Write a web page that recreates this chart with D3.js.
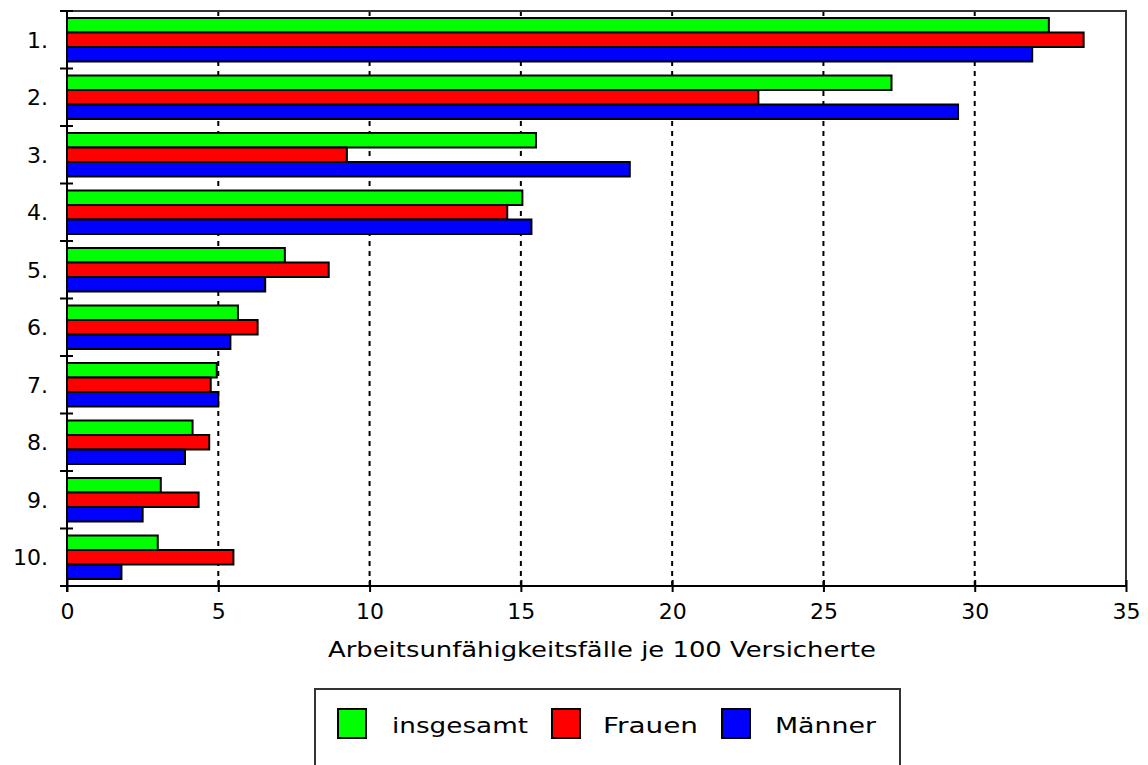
<!DOCTYPE html>
<html>
<head>
<meta charset="utf-8">
<script src="https://cdn.jsdelivr.net/npm/d3@7"></script>
<style>
  body { margin: 0; background: #fff; }
  svg { display: block; }
  text { font-family: "DejaVu Sans", sans-serif; font-size: 22px; fill: #000; }
</style>
</head>
<body>
<svg id="chart" width="1148" height="765"></svg>
<script>
// Rang 1..10, Fälle je 100 Versicherte
const categories = ['1.', '2.', '3.', '4.', '5.', '6.', '7.', '8.', '9.', '10.'];
const seriesNames = ['insgesamt', 'Frauen', 'Männer'];
const insgesamt = [32.45, 27.25, 15.5, 15.05, 7.2, 5.65, 4.95, 4.15, 3.1, 3.0];
const frauen    = [33.6, 22.85, 9.25, 14.55, 8.65, 6.3, 4.75, 4.7, 4.35, 5.5];
const maenner   = [31.9, 29.45, 18.6, 15.35, 6.55, 5.4, 5.0, 3.9, 2.5, 1.8];
const xTicks = [0, 5, 10, 15, 20, 25, 30, 35];
const colors = ['#00ff00', '#ff0000', '#0000ff'];
const xTitle = 'Arbeitsunfähigkeitsfälle je 100 Versicherte';

const svg = d3.select('#chart');
const plotLeft = 67, plotRight = 1126, plotTop = 11, plotBottom = 586;

const x = d3.scaleLinear().domain([0, 35]).range([plotLeft, plotRight]);
const y = d3.scaleBand().domain(categories).range([plotTop, plotBottom]);
const inner = d3.scaleBand().domain(seriesNames).range([7, 50.5]);

const values = [insgesamt, frauen, maenner];

// dotted grid lines
svg.append('g').selectAll('line')
    .data(xTicks.filter(t => t > 0 && t < 35))
    .enter().append('line')
    .attr('x1', d => x(d)).attr('x2', d => x(d))
    .attr('y1', plotTop).attr('y2', plotBottom)
    .attr('stroke', '#000').attr('stroke-width', 2)
    .attr('stroke-dasharray', '5,5');

// frame top/right
svg.append('path')
    .attr('d', `M${plotLeft},${plotTop}H${plotRight}V${plotBottom}`)
    .attr('fill', 'none').attr('stroke', '#333').attr('stroke-width', 2);

// bars
const groups = svg.append('g').selectAll('g')
    .data(categories)
    .enter().append('g')
    .attr('transform', d => `translate(0,${y(d)})`);

groups.selectAll('rect')
    .data((c, i) => seriesNames.map((s, k) => ({ s, k, v: values[k][i] })))
    .enter().append('rect')
    .attr('x', x(0))
    .attr('y', d => inner(d.s))
    .attr('width', d => x(d.v) - x(0))
    .attr('height', inner.bandwidth())
    .attr('fill', d => colors[d.k])
    .attr('stroke', '#000').attr('stroke-width', 2);

// x axis
const xAxis = svg.append('g')
    .attr('transform', `translate(0,${plotBottom})`)
    .call(d3.axisBottom(x).tickValues(xTicks).tickSize(6).tickPadding(0));
xAxis.select('.domain').attr('d', `M${plotLeft},0H${plotRight}`).attr('stroke', '#000').attr('stroke-width', 2);
xAxis.selectAll('.tick line').attr('y1', -6).attr('y2', 6).attr('stroke', '#000').attr('stroke-width', 2);
xAxis.selectAll('.tick text')
    .attr('y', 33).attr('dy', 0)
    .style('font-family', '"DejaVu Sans", sans-serif').style('font-size', '22px').attr('fill', '#000');

// y axis (ticks at band borders)
const yAxis = svg.append('g').attr('transform', `translate(${plotLeft},0)`);
yAxis.append('line')
    .attr('x1', 0).attr('x2', 0).attr('y1', plotTop).attr('y2', plotBottom + 6)
    .attr('stroke', '#000').attr('stroke-width', 2);
yAxis.selectAll('line.tick')
    .data(categories.map(c => y(c)).concat([plotBottom]))
    .enter().append('line')
    .attr('class', 'tick')
    .attr('x1', -7).attr('x2', 6)
    .attr('y1', d => d).attr('y2', d => d)
    .attr('stroke', '#000').attr('stroke-width', 2);
yAxis.selectAll('text')
    .data(categories)
    .enter().append('text')
    .attr('x', -19)
    .attr('y', d => y(d) + y.bandwidth() / 2 + 8)
    .attr('text-anchor', 'end')
    .text(d => d);

// x title
svg.append('text')
    .attr('x', 328).attr('y', 657)
    .attr('textLength', 548).attr('lengthAdjust', 'spacingAndGlyphs')
    .text(xTitle);

// legend
const legend = svg.append('g');
legend.append('rect')
    .attr('x', 315).attr('y', 689).attr('width', 585).attr('height', 100)
    .attr('fill', 'none').attr('stroke', '#333').attr('stroke-width', 2);
const legX = [338, 552, 722];
const legTextX = [392, 603, 775];
const legTextW = [136, 95, 101];
seriesNames.forEach((s, k) => {
    legend.append('rect')
        .attr('x', legX[k]).attr('y', 709).attr('width', 28).attr('height', 29)
        .attr('fill', colors[k]).attr('stroke', '#000').attr('stroke-width', 2);
    legend.append('text')
        .attr('x', legTextX[k]).attr('y', 733)
        .attr('textLength', legTextW[k]).attr('lengthAdjust', 'spacingAndGlyphs')
        .text(s);
});
</script>
</body>
</html>
